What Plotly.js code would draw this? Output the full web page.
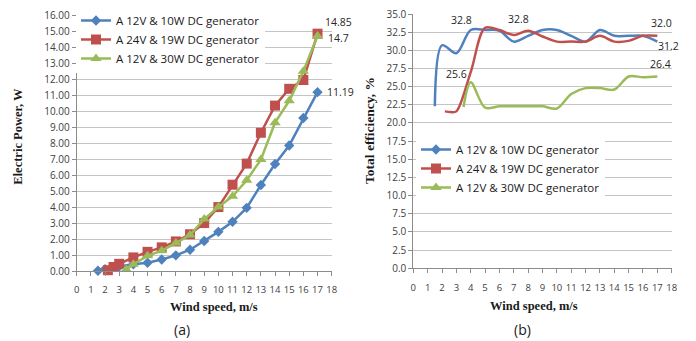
<!DOCTYPE html>
<html><head><meta charset="utf-8">
<script src="https://cdn.plot.ly/plotly-3.0.1.min.js"></script>
<style>html,body{margin:0;padding:0;background:#fff}</style>
</head><body><div id="chart" style="width:696px;height:341px"></div>
<script>
// ---- data ----
const seriesNames = ["A 12V & 10W DC generator", "A 24V & 19W DC generator", "A 12V & 30W DC generator"];
const windBlue  = [1.5, 2, 3, 4, 5, 6, 7, 8, 9, 10, 11, 12, 13, 14, 15, 16, 17];
const windRed   = [2.2, 2.6, 3, 4, 5, 6, 7, 8, 9, 10, 11, 12, 13, 14, 15, 16, 17];
const windGreen = [3.5, 4, 5, 6, 7, 8, 9, 10, 11, 12, 13, 14, 15, 16, 17];
const powerBlue  = [0.02, 0.12, 0.28, 0.42, 0.52, 0.72, 0.98, 1.33, 1.88, 2.45, 3.08, 3.95, 5.38, 6.7, 7.85, 9.57, 11.19];
const powerRed   = [0.05, 0.25, 0.45, 0.85, 1.2, 1.48, 1.85, 2.3, 3.0, 4.0, 5.4, 6.72, 8.65, 10.35, 11.4, 11.95, 14.85];
const powerGreen = [0.1, 0.42, 0.95, 1.27, 1.75, 2.25, 3.25, 4.0, 4.68, 5.68, 6.97, 9.28, 10.65, 12.5, 14.7];
const effBlue  = [22.3, 30.7, 29.6, 32.8, 32.8, 32.7, 31.2, 32.0, 32.8, 32.8, 32.0, 31.2, 32.8, 32.0, 32.0, 32.0, 31.2];
const effRed   = [21.6, 21.5, 21.6, 27.0, 33.1, 32.8, 32.1, 32.7, 31.9, 31.2, 31.2, 31.2, 32.0, 31.2, 31.3, 32.0, 32.0];
const effGreen = [22.2, 25.6, 22.1, 22.3, 22.3, 22.3, 22.3, 22.0, 24.0, 24.8, 24.8, 24.6, 26.4, 26.3, 26.4];
const xTicks = [0,1,2,3,4,5,6,7,8,9,10,11,12,13,14,15,16,17,18];
const powerTicks = [0,1,2,3,4,5,6,7,8,9,10,11,12,13,14,15,16];
const effTicks = [0,2.5,5,7.5,10,12.5,15,17.5,20,22.5,25,27.5,30,32.5,35];

// ---- styles ----
const colors = ["#4F81BD", "#C0504D", "#9BBB59"];
const symbols = ["diamond", "square", "triangle-up"];
const msizes = [8, 10, 10];
const tickFont = {family: "Open Sans, sans-serif", size: 10, color: "#404040"};
const xTickFont = {family: "Open Sans, sans-serif", size: 9.5, color: "#404040"};
const titleFont = {family: "Liberation Serif, serif", size: 12.5, color: "#1a1a1a", weight: "bold"};
const legFont = {family: "Open Sans, sans-serif", size: 11.5, color: "#1a1a1a"};

const pX = [windBlue, windRed, windGreen];
const pY = [powerBlue, powerRed, powerGreen];
const eY = [effBlue, effRed, effGreen];

const traces = [];
for (let i = 0; i < 3; i++) {
  traces.push({
    x: pX[i], y: pY[i], xaxis: "x", yaxis: "y", type: "scatter", mode: "lines+markers",
    name: seriesNames[i], legend: "legend",
    line: {color: colors[i], width: 2.5},
    marker: {color: colors[i], symbol: symbols[i], size: msizes[i]},
    cliponaxis: false
  });
}
for (let i = 0; i < 3; i++) {
  traces.push({
    x: pX[i], y: eY[i], xaxis: "x2", yaxis: "y2", type: "scatter", mode: "lines",
    name: seriesNames[i], showlegend: false,
    line: {color: colors[i], width: 2.5, shape: "spline", smoothing: 0.9}
  });
}
for (let i = 0; i < 3; i++) {
  traces.push({
    x: [null], y: [null], xaxis: "x2", yaxis: "y2", type: "scatter", mode: "lines+markers",
    name: seriesNames[i], legend: "legend2",
    line: {color: colors[i], width: 2.5},
    marker: {color: colors[i], symbol: symbols[i], size: msizes[i]}
  });
}

const W = 696, H = 341;
const px = v => v / W, py = v => 1 - v / H;

function xAx(dom) {
  return {domain: dom, range: [0, 18], tickmode: "array", tickvals: xTicks,
    showgrid: false, zeroline: false, showline: true, linecolor: "#8c8c8c", linewidth: 1,
    ticks: "outside", ticklen: 4, tickcolor: "#8c8c8c", tickfont: xTickFont,
    ticklabelstandoff: 6, fixedrange: true};
}
function yAx(dom, range, vals, fmt) {
  return {domain: dom, range: range, tickmode: "array", tickvals: vals, tickformat: fmt,
    showgrid: true, gridcolor: "#c4c4c4", gridwidth: 1, zeroline: false,
    showline: true, linecolor: "#8c8c8c", linewidth: 1,
    ticks: "outside", ticklen: 4, tickcolor: "#8c8c8c", tickfont: tickFont, fixedrange: true};
}

const annFont = {family: "Open Sans, sans-serif", size: 10.5, color: "#262626"};
const last = a => a[a.length - 1];
const P = {xref: "paper", yref: "paper", showarrow: false, xanchor: "center", yanchor: "middle"};
const annotations = [
  // data labels (a)
  {x: 17, y: last(powerRed), xref: "x", yref: "y", text: last(powerRed).toFixed(2), showarrow: false, xanchor: "left", xshift: 5, yshift: 12, font: annFont},
  {x: 17, y: last(powerGreen), xref: "x", yref: "y", text: String(last(powerGreen)), showarrow: false, xanchor: "left", xshift: 8, yshift: -2, font: annFont},
  {x: 17, y: last(powerBlue), xref: "x", yref: "y", text: last(powerBlue).toFixed(2), showarrow: false, xanchor: "left", xshift: 7, yshift: 0, font: annFont},
  // data labels (b)
  {x: windBlue[3], y: effBlue[3], xref: "x2", yref: "y2", text: effBlue[3].toFixed(1), showarrow: false, xshift: -9, yshift: 10, font: annFont},
  {x: windRed[5], y: effRed[5], xref: "x2", yref: "y2", text: effRed[5].toFixed(1), showarrow: false, xshift: 19, yshift: 11, font: annFont},
  {x: 17, y: last(effRed), xref: "x2", yref: "y2", text: last(effRed).toFixed(1), showarrow: false, xshift: 4, yshift: 13, font: annFont},
  {x: 17, y: last(effBlue), xref: "x2", yref: "y2", text: last(effBlue).toFixed(1), showarrow: false, xshift: 11, yshift: -4, font: annFont},
  {x: 17, y: last(effGreen), xref: "x2", yref: "y2", text: last(effGreen).toFixed(1), showarrow: false, xshift: 3, yshift: 12, font: annFont},
  {x: windGreen[1], y: effGreen[1], xref: "x2", yref: "y2", text: effGreen[1].toFixed(1), showarrow: false, xshift: -14, yshift: 8, font: annFont},
  // axis titles
  Object.assign({x: px(213.7), y: py(307), text: "Wind speed, m/s", font: titleFont}, P),
  Object.assign({x: px(534), y: py(306), text: "Wind speed, m/s", font: titleFont}, P),
  Object.assign({x: px(17.7), y: py(136), text: "Electric Power, W", textangle: -90, font: titleFont}, P),
  Object.assign({x: px(369), y: py(131), text: "Total efficiency, %", textangle: -90, font: Object.assign({}, titleFont, {size: 13.5})}, P),
  // panel labels
  Object.assign({x: px(182), y: py(329), text: "(a)", font: {family: "Open Sans, sans-serif", size: 14, color: "#1a1a1a"}}, P),
  Object.assign({x: px(522), y: py(329), text: "(b)", font: {family: "Open Sans, sans-serif", size: 14, color: "#1a1a1a"}}, P)
];

const layout = {
  width: W, height: H, margin: {l: 0, r: 0, t: 0, b: 0},
  paper_bgcolor: "#fff", plot_bgcolor: "#fff",
  xaxis: xAx([px(76.7), px(331.7)]),
  yaxis: yAx([py(271), py(15.3)], [0, 16], powerTicks, ".2f"),
  xaxis2: Object.assign(xAx([px(413.3), px(671.7)]), {anchor: "y2"}),
  yaxis2: Object.assign(yAx([py(268.3), py(14)], [0, 35], effTicks, ".1f"), {anchor: "x2"}),
  legend: {x: px(76), y: py(6), xanchor: "left", yanchor: "top", bgcolor: "#fff", borderwidth: 0,
    font: legFont, tracegroupgap: 0, itemwidth: 30},
  legend2: {x: px(416), y: py(135), xanchor: "left", yanchor: "top", bgcolor: "#fff", borderwidth: 0,
    font: legFont, tracegroupgap: 0, itemwidth: 30},
  annotations: annotations,
  showlegend: true
};
layout.xaxis.anchor = "y";
layout.yaxis.anchor = "x";

Plotly.newPlot("chart", traces, layout, {displayModeBar: false, staticPlot: true});
</script></body></html>
